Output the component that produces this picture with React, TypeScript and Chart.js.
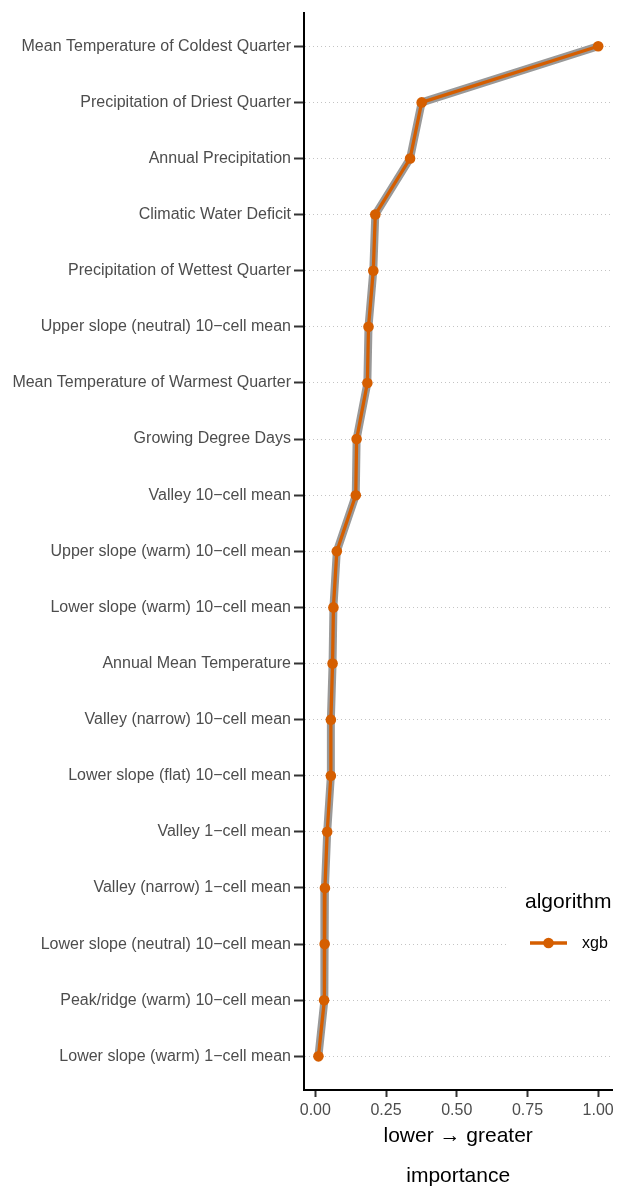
import React, { useEffect, useRef } from "react";
import { Chart, registerables } from "chart.js";

Chart.register(...registerables);

const categories: string[] = [
  "Mean Temperature of Coldest Quarter",
  "Precipitation of Driest Quarter",
  "Annual Precipitation",
  "Climatic Water Deficit",
  "Precipitation of Wettest Quarter",
  "Upper slope (neutral) 10\u2212cell mean",
  "Mean Temperature of Warmest Quarter",
  "Growing Degree Days",
  "Valley 10\u2212cell mean",
  "Upper slope (warm) 10\u2212cell mean",
  "Lower slope (warm) 10\u2212cell mean",
  "Annual Mean Temperature",
  "Valley (narrow) 10\u2212cell mean",
  "Lower slope (flat) 10\u2212cell mean",
  "Valley 1\u2212cell mean",
  "Valley (narrow) 1\u2212cell mean",
  "Lower slope (neutral) 10\u2212cell mean",
  "Peak/ridge (warm) 10\u2212cell mean",
  "Lower slope (warm) 1\u2212cell mean",
];

const xgbImportance: number[] = [
  1.0, 0.376, 0.335, 0.212, 0.205, 0.188, 0.184, 0.146, 0.143, 0.076,
  0.064, 0.061, 0.055, 0.055, 0.042, 0.034, 0.033, 0.031, 0.011,
];

const xTickValues: number[] = [0, 0.25, 0.5, 0.75, 1.0];
const seriesName = "xgb";
const legendTitle = "algorithm";
const xTitleLines: string[] = ["lower \u2192 greater", "", "importance"];

const ORANGE = "#D55E00";
const GREY = "#999999";
const FONT = "'Liberation Sans', Arial, sans-serif";

const legendPlugin = {
  id: "customLegend",
  afterDraw(chart: any) {
    const ctx = chart.ctx;
    ctx.save();
    ctx.fillStyle = "#ffffff";
    ctx.fillRect(507, 872, 111, 100);
    ctx.fillStyle = "#000000";
    ctx.font = `21px ${FONT}`;
    ctx.textBaseline = "middle";
    ctx.textAlign = "left";
    ctx.fillText(legendTitle, 525, 902);
    ctx.strokeStyle = ORANGE;
    ctx.lineWidth = 3.3;
    ctx.beginPath();
    ctx.moveTo(530, 943);
    ctx.lineTo(567, 943);
    ctx.stroke();
    ctx.fillStyle = ORANGE;
    ctx.beginPath();
    ctx.arc(548.5, 943, 5.3, 0, Math.PI * 2);
    ctx.fill();
    ctx.fillStyle = "#000000";
    ctx.font = `16px ${FONT}`;
    ctx.fillText(seriesName, 582, 944);
    ctx.restore();
  },
};

export default function App() {
  const canvasRef = useRef<HTMLCanvasElement | null>(null);

  useEffect(() => {
    document.body.style.margin = "0";
    const canvas = canvasRef.current;
    if (!canvas) return;
    const points = xgbImportance.map((v, i) => ({ x: v, y: i + 1 }));
    const chart = new Chart(canvas, {
      type: "line",
      data: {
        datasets: [
          {
            label: seriesName,
            data: points,
            borderColor: ORANGE,
            backgroundColor: ORANGE,
            borderWidth: 3.3,
            pointRadius: 5.3,
            pointBackgroundColor: ORANGE,
            pointBorderWidth: 0,
            tension: 0,
            borderJoinStyle: "round",
            borderCapStyle: "round",
          },
          {
            label: "outline",
            data: points,
            borderColor: GREY,
            borderWidth: 8,
            pointRadius: 0,
            tension: 0,
            borderJoinStyle: "round",
            borderCapStyle: "round",
          },
        ],
      },
      options: {
        responsive: false,
        animation: false,
        layout: { padding: { left: 0, right: 2, top: 11, bottom: 0 } },
        plugins: {
          legend: { display: false },
          tooltip: { enabled: false },
        },
        scales: {
          x: {
            type: "linear",
            position: "bottom",
            min: -0.04,
            max: 1.05,
            afterBuildTicks: (scale: any) => {
              scale.ticks = xTickValues.map((v) => ({ value: v }));
            },
            afterFit: (scale: any) => {
              scale.height = 96;
            },
            ticks: {
              callback: (v: any) => Number(v).toFixed(2),
              color: "#4d4d4d",
              font: { family: FONT, size: 16 },
              padding: 4,
              maxRotation: 0,
              autoSkip: false,
            },
            grid: {
              drawOnChartArea: false,
              drawTicks: true,
              tickLength: 7,
              tickColor: "#333333",
              tickWidth: 2,
            },
            border: { display: true, color: "#000000", width: 2 },
            title: {
              display: true,
              text: xTitleLines,
              color: "#000000",
              font: { family: FONT, size: 21, lineHeight: 0.943 },
              padding: { top: 0, bottom: 0 },
            },
          },
          y: {
            type: "linear",
            reverse: true,
            min: 0.4,
            max: 19.6,
            afterBuildTicks: (scale: any) => {
              scale.ticks = categories.map((_, i) => ({ value: i + 1 }));
            },
            afterFit: (scale: any) => {
              scale.width = 304;
            },
            ticks: {
              callback: (v: any) => categories[Math.round(Number(v)) - 1],
              color: "#4d4d4d",
              font: { family: FONT, size: 16 },
              padding: 3,
              autoSkip: false,
            },
            grid: {
              color: "#c4c4c4",
              lineWidth: 1,
              drawTicks: true,
              tickLength: 10,
              tickColor: "#333333",
              tickWidth: 2,
              tickBorderDash: [],
            },
            border: { display: true, color: "#000000", width: 2, dash: [1, 3] },
          },
        },
      },
      plugins: [legendPlugin],
    } as any);
    return () => chart.destroy();
  }, []);

  return (
    <div style={{ width: 618, height: 1186, background: "#ffffff" }}>
      <canvas ref={canvasRef} width={618} height={1186} style={{ display: "block" }} />
    </div>
  );
}
